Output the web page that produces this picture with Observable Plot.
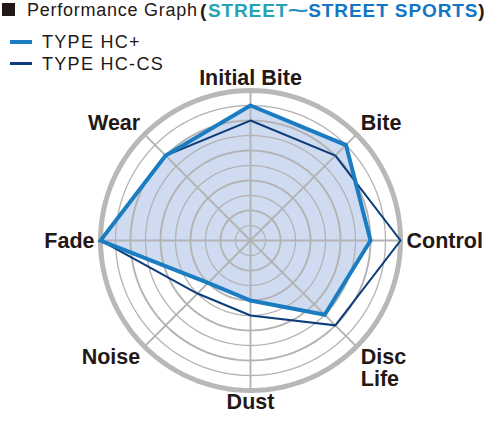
<!DOCTYPE html>
<html>
<head>
<meta charset="utf-8">
<script src="https://cdn.jsdelivr.net/npm/d3@7"></script>
<script src="https://cdn.jsdelivr.net/npm/@observablehq/plot@0.6"></script>
<style>
  html, body { margin: 0; padding: 0; background: #ffffff; }
  #wrap { position: relative; width: 500px; height: 425px; overflow: hidden; }
  #chart { position: absolute; left: 0; top: 0; }
  .sq { position: absolute; left: 2px; top: 3px; width: 13px; height: 13px; background: #231815; }
  .t1 { position: absolute; left: 27px; top: 0px; white-space: nowrap; letter-spacing: 0.75px;
        font-family: "Liberation Sans", Arial, sans-serif; font-size: 18px; line-height: 20px; color: #231815; }
  .t2 { position: absolute; left: 200px; top: 0px; white-space: nowrap; font-weight: bold;
        font-family: "Liberation Sans", Arial, sans-serif; font-size: 19px; line-height: 21px; color: #231815; }
  .c1 { color: #25a3b4; letter-spacing: 0.9px; }
  .c2 { color: #1c8fc0; display: inline-block; width: 20px; text-align: center; transform: scaleX(1.9); }
  .c3 { color: #1476c3; letter-spacing: 0.9px; }
  .legend { position: absolute; left: 0; font-family: "Liberation Sans", Arial, sans-serif; font-size: 18px;
            line-height: 20px; color: #231815; letter-spacing: 1.3px; white-space: nowrap; }
  .legend .sw { position: absolute; left: 10px; top: 8px; width: 22px; height: 3.5px; }
  .legend .lb { position: absolute; left: 42px; top: 0; }
</style>
</head>
<body>
<div id="wrap">
  <div id="chart"></div>
  <div class="sq"></div>
  <div class="t1">Performance Graph</div>
  <div class="t2">(&#8202;<span class="c1">STREET</span><span class="c2">~</span><span class="c3">STREET SPORTS</span>)</div>
  <div id="legend"></div>
</div>
<script>
// ---- data ----
const categories = ["Initial Bite", "Bite", "Control", "Disc\nLife", "Dust", "Noise", "Fade", "Wear"];
const seriesNames = ["TYPE HC+", "TYPE HC-CS"];
const hcPlus = [9, 9, 8, 7, 4, 4, 10, 8];
const hcCS   = [8, 8, 10, 8, 5, 5, 10, 8];
const levels = [1, 2, 3, 4, 5, 6, 7, 8, 9];
const maxLevel = 10;

// ---- styles ----
const colPlus = "#1b7dc1";
const colCS = "#0d3d7a";
const fillPlus = "#cfdbf1";
const gridCol = "#b3b3b3";
const textCol = "#231815";

// legend
const legendColors = [colPlus, colCS];
const legend = document.getElementById("legend");
seriesNames.forEach((n, i) => {
  const row = document.createElement("div");
  row.className = "legend";
  row.style.top = (32 + i * 21.5) + "px";
  row.innerHTML = `<div class="sw" style="background:${legendColors[i]}"></div><span class="lb">${n}</span>`;
  legend.appendChild(row);
});

// geometry helpers
const n = categories.length;
const ang = i => i * 2 * Math.PI / n;
const toPts = vals => vals.map((v, i) => ({cat: categories[i], v, x: v * Math.sin(ang(i)), y: v * Math.cos(ang(i))}));
const ptsPlus = toPts(hcPlus);
const ptsCS = toPts(hcCS);

const ringPts = [];
for (const k of [...levels, maxLevel]) {
  for (let a = 0; a < 360; a += 3) {
    const t = a * Math.PI / 180;
    ringPts.push({k, x: k * Math.sin(t), y: k * Math.cos(t)});
  }
}
const spokes = categories.map((c, i) => ({c, x2: maxLevel * Math.sin(ang(i)), y2: maxLevel * Math.cos(ang(i))}));

const labelR = 10.4;
const labels = categories.map((c, i) => {
  const s = Math.sin(ang(i)), co = Math.cos(ang(i));
  return {
    c, x: labelR * s, y: labelR * co,
    ta: s > 0.1 ? "start" : s < -0.1 ? "end" : "middle",
    la: co > 0.1 ? "bottom" : co < -0.1 ? "top" : "middle"
  };
});
const combos = [];
for (const ta of ["start", "middle", "end"]) for (const la of ["top", "middle", "bottom"]) combos.push([ta, la]);

const unit = 15; // px per level
const W = 500, H = 425, cx = 250, cy = 240;

const chart = Plot.plot({
  width: W, height: H,
  margin: 0,
  style: {background: "transparent", overflow: "visible"},
  x: {domain: [-cx / unit, (W - cx) / unit], axis: null},
  y: {domain: [-(H - cy) / unit, cy / unit], axis: null},
  marks: [
    Plot.line(ptsPlus, {x: "x", y: "y", curve: "linear-closed", fill: fillPlus, stroke: "none"}),
    Plot.line(ringPts, {filter: d => d.k < maxLevel, x: "x", y: "y", z: "k", curve: "linear-closed",
      stroke: gridCol, strokeWidth: d => (d.k % 2 === 0 ? 1.9 : 1.3)}),
    Plot.link(spokes, {x1: 0, y1: 0, x2: "x2", y2: "y2", stroke: gridCol, strokeWidth: 1.9}),
    Plot.line(ringPts, {filter: d => d.k === maxLevel, x: "x", y: "y", curve: "linear-closed",
      stroke: "#b8b8b8", strokeWidth: 5}),
    Plot.line(ptsCS, {x: "x", y: "y", curve: "linear-closed", stroke: colCS, strokeWidth: 2,
      strokeLinejoin: "miter", strokeMiterlimit: 10}),
    Plot.line(ptsPlus, {x: "x", y: "y", curve: "linear-closed", stroke: colPlus, strokeWidth: 4,
      strokeLinejoin: "miter", strokeMiterlimit: 10}),
    ...combos.map(([ta, la]) => Plot.text(labels, {
      filter: d => d.ta === ta && d.la === la,
      x: "x", y: "y", text: "c", textAnchor: ta, lineAnchor: la, lineHeight: 1.03,
      dy: la === "top" ? -3 : 0,
      fill: textCol, fontSize: 21.5, fontWeight: "bold", fontFamily: "Liberation Sans, Arial, sans-serif"
    }))
  ]
});
document.getElementById("chart").appendChild(chart);
</script>
</body>
</html>
